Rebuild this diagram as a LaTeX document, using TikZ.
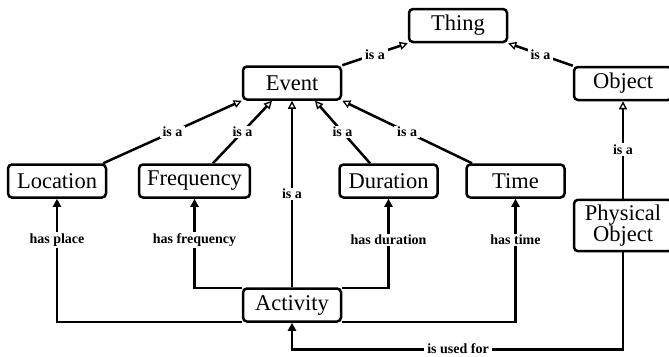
\documentclass[tikz,border=0pt]{standalone}
\usepackage{fontspec}
\setmainfont{Liberation Serif}
\usetikzlibrary{arrows.meta}
\begin{document}
\begin{tikzpicture}[x=1pt,y=-1pt,
  box/.style={draw, line width=2.5pt, rounded corners=4pt, fill=white,
    minimum width=98pt, minimum height=33pt, inner xsep=8pt, inner ysep=2pt,
    font=\fontsize{22.5}{21}\selectfont},
  conn/.style={line width=2.5pt},
  isa/.style={conn, -{Triangle[open, length=8pt, width=8pt, line width=1.3pt]}},
  has/.style={conn, -{Triangle[length=8pt, width=8pt]}},
  lbl/.style={fill=white, inner xsep=3pt, inner ysep=1.5pt, font=\fontsize{14}{14}\bfseries\selectfont},
]
\useasboundingbox (0,0) rectangle (669,356);

% boxes
\node[box] (thing) at (458,25.5) {Thing};
\node[box] (event) at (292,83) {Event};
\node[box] (object) at (623,83.5) {Object};
\node[box] (loc) at (57,181) {Location};
\node[box] (freq) at (194.5,181) {Frequency};
\node[box] (dur) at (388.5,181) {Duration};
\node[box] (time) at (515.5,181) {Time};
\node[box, align=center, inner ysep=5pt] (phys) at (623,225.5) {Physical\\Object};
\node[box] (act) at (292,305) {Activity};

% is a
\draw[isa] (event.north east) -- node[lbl, midway] (l1) {is a} (thing.south west);
\draw[isa] (object.north west) -- node[lbl, midway] (l2) {is a} (thing.south east);
\draw[isa] ([xshift=-4pt]loc.north east) -- node[lbl, midway] (l3) {is a} (event.south west);
\draw[isa] ([xshift=18.5pt]freq.north) -- node[lbl, midway] (l4) {is a} ([xshift=-20pt]event.south);
\draw[isa] (act.north) -- node[lbl, midway] (l5) {is a} (event.south);
\draw[isa] ([xshift=-18.5pt]dur.north) -- node[lbl, midway] (l6) {is a} ([xshift=23pt]event.south);
\draw[isa] ([xshift=-43.5pt]time.north) -- node[lbl, midway] (l7) {is a} (event.south east);
\draw[isa] (phys.north) -- node[lbl, midway] (l8) {is a} (object.south);

% has ...
\draw[has] ([yshift=-17pt]act.west) -| (loc.south);
\draw[has] ([yshift=17pt]act.west) -| (freq.south);
\draw[has] ([yshift=17pt]act.east) -| (dur.south);
\draw[has] ([yshift=-17pt]act.east) -| (time.south);
\node[lbl] (h1) at (57,240) {has place};
\node[lbl] (h2) at (194.5,240) {has frequency};
\node[lbl] (h3) at (388.5,240) {has duration};
\node[lbl] (h4) at (515.5,240) {has time};

% is used for
\coordinate (uf) at (292,349.5);
\draw[has] (phys.south) |- (uf) -- (act.south);
\node[lbl, inner ysep=0.5pt] (h5) at (458,349) {is used for};
\end{tikzpicture}
\end{document}
